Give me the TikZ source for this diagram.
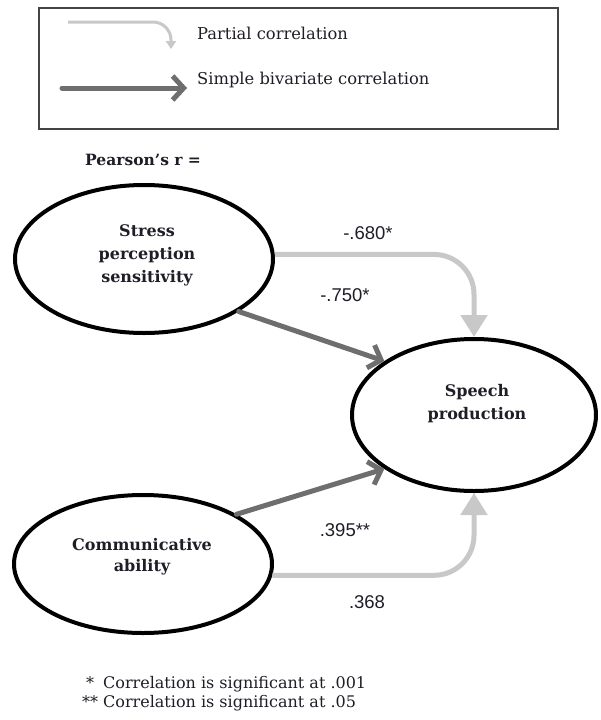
\documentclass[tikz,border=0pt]{standalone}
\usepackage{fontspec}
\setmainfont{DejaVu Serif}
\newfontfamily\numfont{Liberation Sans}
\usetikzlibrary{arrows.meta,shapes.geometric}
\definecolor{lightarr}{HTML}{C8C8C8}
\definecolor{darkarr}{HTML}{6E6E6E}
\definecolor{txt}{HTML}{1E1E28}
\definecolor{boxline}{HTML}{444444}
\tikzset{
  varnode/.style={ellipse, draw=black, line width=4pt, inner sep=0pt},
  vartext/.style={text=txt, font=\fontsize{16}{23}\selectfont\bfseries, align=center, inner sep=0pt},
  partialarr/.style={draw=lightarr, line width=5pt, rounded corners=40pt,
    -{Triangle[width=26pt,length=22pt]}},
  simplearr/.style={draw=darkarr, line width=5pt, line cap=round,
    -{Straight Barb[length=11pt,width=24pt,line width=5pt]}},
  numlabel/.style={text=txt, font=\numfont\fontsize{18.5}{20}\selectfont, inner sep=0pt},
  legtext/.style={text=txt, font=\fontsize{16.3}{19}\selectfont, anchor=west, inner sep=0pt},
  foottext/.style={text=txt, font=\fontsize{16}{18}\selectfont, anchor=west, inner sep=0pt}
}
\begin{document}
\begin{tikzpicture}[x=1pt,y=-1pt]
\path[use as bounding box, fill=white] (0,0) rectangle (600,720);

% legend
\node[draw=boxline, line width=2.5pt, minimum width=519pt, minimum height=121pt, inner sep=0pt] (legend) at (298.5,68.5) {};
\coordinate (lp1) at (68,22);
\coordinate (lp2) at (171,49);
\draw[draw=lightarr, line width=3pt, rounded corners=18pt, -{Triangle[width=10pt,length=8pt]}] (lp1) -| (lp2);
\node[legtext] (legp) at (197,33) {Partial correlation};
\coordinate (ls1) at (62,88);
\coordinate (ls2) at (187,88);
\draw[simplearr] (ls1) -- (ls2);
\node[legtext] (legs) at (197,80) {Simple bivariate correlation};

\node[text=txt, font=\fontsize{15.5}{18}\selectfont\bfseries, anchor=west, inner sep=0pt] (pearson) at (85,160) {Pearson's r =};

% variables
\node[varnode, minimum width=258pt, minimum height=148pt] (stress) at (144,259) {};
\node[vartext] (stresst) at (147,255) {Stress\\perception\\sensitivity};
\node[varnode, minimum width=244pt, minimum height=152pt] (speech) at (474,415) {};
\node[vartext] (speecht) at (477,403.5) {Speech\\production};
\node[varnode, minimum width=258pt, minimum height=138pt] (comm) at (143,564) {};
\node[vartext, font=\fontsize{16}{21}\selectfont\bfseries] (commt) at (142,556.5) {Communicative\\ability};

% connectors
\draw[partialarr] (stress.2) -| (speech.north);
\draw[partialarr] (comm.-5) -| (speech.south);
\draw[simplearr] (stress.-29) -- (speech.149);
\draw[simplearr] (comm.28) -- (speech.211);

% labels
\node[numlabel] (l680) at (368,233) {-.680*};
\node[numlabel] (l750) at (345,295) {-.750*};
\node[numlabel] (l395) at (345,530) {.395**};
\node[numlabel] (l368) at (367,602) {.368};

% footnotes
\node[foottext] (f1) at (82,684) {\makebox[21pt][l]{\hspace{4pt}*}Correlation is significant at .001};
\node[foottext] (f2) at (82,703) {\makebox[21pt][l]{**}Correlation is significant at .05};
\end{tikzpicture}
\end{document}
